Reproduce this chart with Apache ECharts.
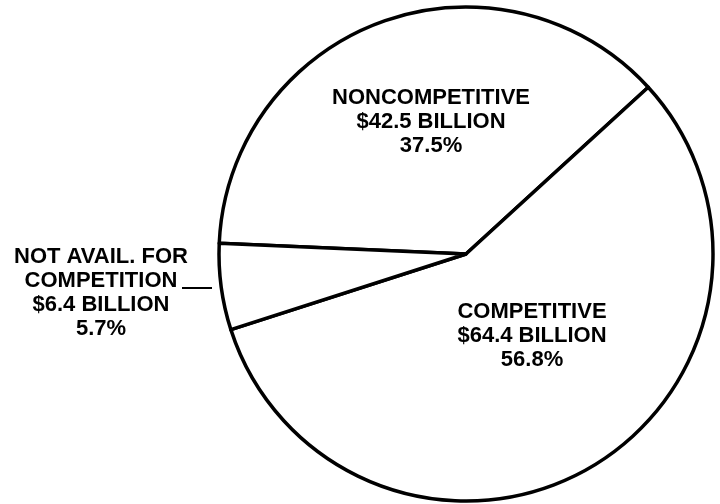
<!DOCTYPE html>
<html>
<head>
<meta charset="utf-8">
<script src="https://cdn.jsdelivr.net/npm/echarts@6/dist/echarts.min.js"></script>
<style>html,body{margin:0;padding:0;background:#fff}#c{width:720px;height:504px}</style>
</head>
<body>
<div id="c"></div>
<script>
const categories = ['NONCOMPETITIVE', 'COMPETITIVE', 'NOT AVAIL. FOR\nCOMPETITION'];
const valuesBillion = [42.5, 64.4, 6.4];
const percentLabels = ['37.5%', '56.8%', '5.7%'];

const chart = echarts.init(document.getElementById('c'), null, {renderer: 'canvas'});
const labelPos = [[431, 122], [532, 336], [101, 293]];

chart.setOption({
  backgroundColor: '#ffffff',
  animation: false,
  graphic: [{
    type: 'line',
    shape: {x1: 182, y1: 288, x2: 212, y2: 288},
    style: {stroke: '#000', lineWidth: 2}
  }],
  series: [{
    type: 'pie',
    center: [466, 254],
    radius: 247,
    startAngle: 177.5,
    clockwise: true,
    silent: true,
    itemStyle: {color: '#ffffff', borderColor: '#000000', borderWidth: 3.5},
    label: {
      show: true,
      position: 'inside',
      color: '#000',
      fontFamily: '"Liberation Sans", Arial, Helvetica, sans-serif',
      fontWeight: 'bold',
      fontSize: 22,
      lineHeight: 24,
      align: 'center',
      formatter: function (p) {
        return p.name + '\n$' + p.value + ' BILLION\n' + percentLabels[p.dataIndex];
      }
    },
    labelLine: {show: false},
    labelLayout: function (params) {
      const pos = labelPos[params.dataIndex];
      return {x: pos[0], y: pos[1], align: 'center', verticalAlign: 'middle'};
    },
    data: categories.map((c, i) => ({name: c, value: valuesBillion[i]}))
  }]
});
</script>
</body>
</html>
